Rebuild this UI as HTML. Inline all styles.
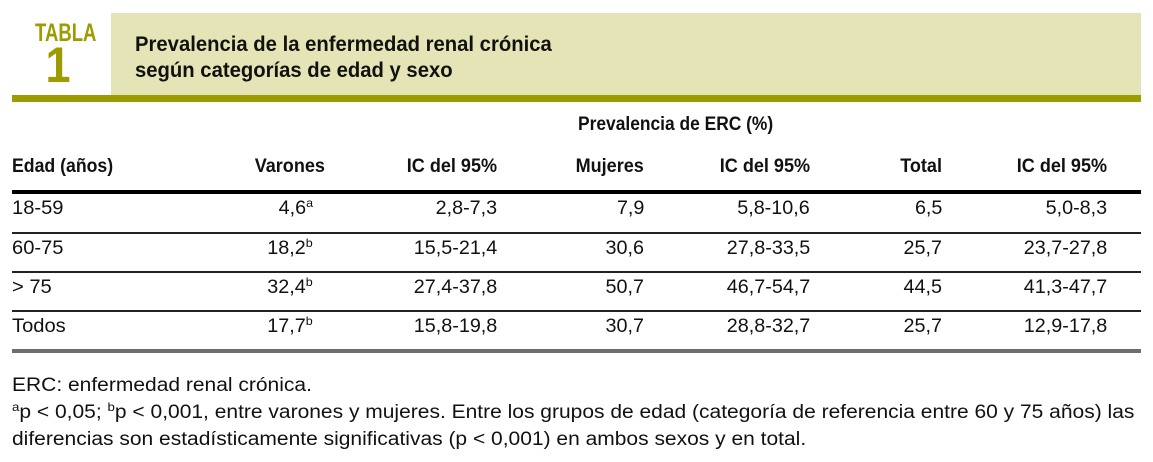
<!DOCTYPE html>
<html><head><meta charset="utf-8"><style>
body{margin:0;width:1153px;height:462px;background:#fff;position:relative;overflow:hidden;font-family:"Liberation Sans Narrow","Liberation Sans",sans-serif;color:#111}
.a{position:absolute;white-space:nowrap}
.b{font-weight:bold}
.t{font-size:19px}
sup{font-size:12px;vertical-align:7px;line-height:0}
</style></head><body>
<div class="a" style="left:27px;top:20px;width:62px;text-align:center;color:#9c9c00;font-weight:bold;font-size:25px;line-height:26px;transform:scaleX(0.74)">TABLA</div>
<div class="a" style="left:27px;top:40px;width:62px;text-align:center;color:#9c9c00;font-weight:bold;font-size:50px;line-height:50px;transform:scaleX(0.9)">1</div>
<div class="a" style="left:111px;top:13px;width:1030px;height:82px;background:#e5e4b6"></div>
<div class="a b" style="left:135px;top:32px;font-size:21px;line-height:26px;transform:scaleX(0.965);transform-origin:left">Prevalencia de la enfermedad renal crónica<br>según categorías de edad y sexo</div>
<div class="a" style="left:12px;top:95px;width:1129px;height:7px;background:#9c9c00"></div>
<div class="a b t" style="left:578px;top:114px;transform:scaleX(0.915);transform-origin:left">Prevalencia de ERC (%)</div>
<div id="hdr"></div>
<div class="a" style="left:12px;top:190px;width:1129px;height:4px;background:#000"></div>
<div id="rows"></div>
<div class="a" style="left:12px;top:349px;width:1129px;height:4px;background:#6e6e6e"></div>
<div class="a t" style="left:12px;top:372px;line-height:27px;transform:scaleX(1.105);transform-origin:left">ERC: enfermedad renal crónica.<br><sup>a</sup>p &lt; 0,05; <sup>b</sup>p &lt; 0,001, entre varones y mujeres. Entre los grupos de edad (categoría de referencia entre 60 y 75 años) las<br>diferencias son estadísticamente significativas (p &lt; 0,001) en ambos sexos y en total.</div>
<script>
const headers=["Edad (años)","Varones","IC del 95%","Mujeres","IC del 95%","Total","IC del 95%"];
const ages=["18-59","60-75","> 75","Todos"];
const men=["4,6","18,2","32,4","17,7"];
const menSup=["a","b","b","b"];
const menCI=["2,8-7,3","15,5-21,4","27,4-37,8","15,8-19,8"];
const women=["7,9","30,6","50,7","30,7"];
const womenCI=["5,8-10,6","27,8-33,5","46,7-54,7","28,8-32,7"];
const total=["6,5","25,7","44,5","25,7"];
const totalCI=["5,0-8,3","23,7-27,8","41,3-47,7","12,9-17,8"];
const hdrRight=[null,325,497,644,810,942,1107];
const colRight=[null,313,497,644,810,942,1107];
const hdr=document.getElementById('hdr');
headers.forEach((h,i)=>{const d=document.createElement('div');


d.className='a b t';d.textContent=h;d.style.top='156px';
if(i===0){d.style.left='12px';d.style.transform='scaleX(0.93)';d.style.transformOrigin='left';}
else{d.style.right=(1153-hdrRight[i])+'px';d.style.transform='scaleX(0.95)';d.style.transformOrigin='right';}
hdr.appendChild(d);});
const rows=document.getElementById('rows');
const rowTop=[198,238,277,316];
ages.forEach((a,r)=>{
 const vals=[a,men[r],menCI[r],women[r],womenCI[r],total[r],totalCI[r]];
 vals.forEach((v,i)=>{const d=document.createElement('div');
 
 
 d.className='a t';d.style.top=rowTop[r]+'px';
 if(i===0){d.style.left='12px';d.style.transform='scaleX(1.06)';d.style.transformOrigin='left';}
 else{d.style.right=(1153-colRight[i])+'px';d.style.transform='scaleX(1.04)';d.style.transformOrigin='right';}
 d.textContent=v;
 if(i===1){const s=document.createElement('sup');s.textContent=menSup[r];d.appendChild(s);}
 rows.appendChild(d);});
 if(r<3){const l=document.createElement('div');
 
 
 l.className='a';l.style.cssText='left:12px;width:1129px;height:2px;background:#222;top:'+[232,271,310][r]+'px';
 rows.appendChild(l);}
});
</script>
</body></html>
